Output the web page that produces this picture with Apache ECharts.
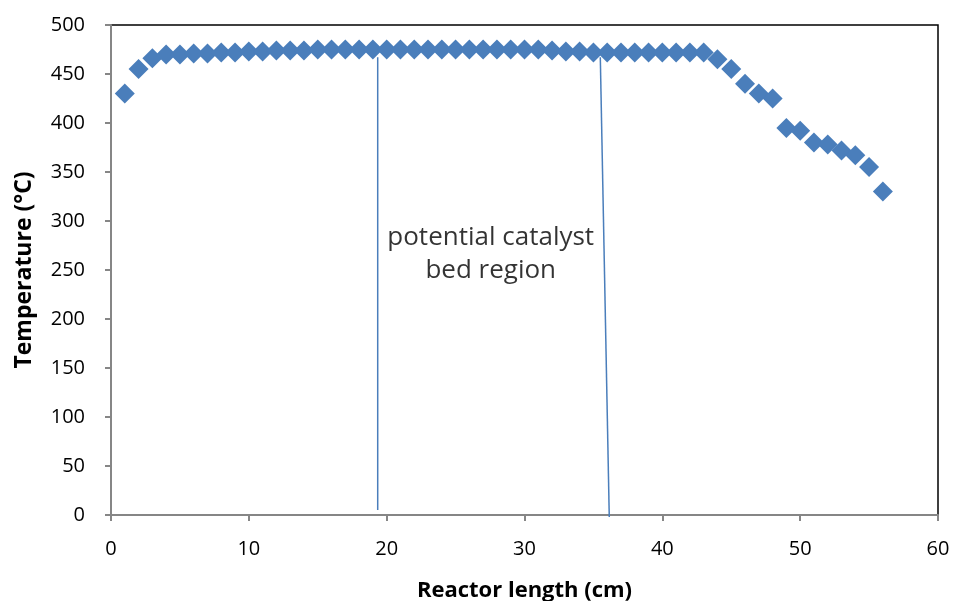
<!DOCTYPE html>
<html>
<head>
<meta charset="utf-8">
<script src="https://cdn.jsdelivr.net/npm/echarts@6/dist/echarts.min.js"></script>
<style>
  html, body { margin: 0; padding: 0; background: #fff; }
  #chart { width: 955px; height: 601px; }
</style>
</head>
<body>
<div id="chart"></div>
<script>
// Position along the reactor (cm)
const reactorLength = [
  1, 2, 3, 4, 5, 6, 7, 8, 9, 10, 11, 12, 13, 14, 15, 16, 17, 18, 19, 20,
  21, 22, 23, 24, 25, 26, 27, 28, 29, 30, 31, 32, 33, 34, 35, 36, 37, 38, 39, 40,
  41, 42, 43, 44, 45, 46, 47, 48, 49, 50, 51, 52, 53, 54, 55, 56
];
// Measured temperature at each position (°C)
const temperature = [
  430, 455, 466, 470, 470, 471, 471, 472, 472, 473, 473, 474, 474, 474, 475, 475, 475, 475, 475, 475,
  475, 475, 475, 475, 475, 475, 475, 475, 475, 475, 475, 474, 473, 473, 472, 472, 472, 472, 472, 472,
  472, 472, 472, 465, 455, 440, 430, 425, 395, 392, 380, 378, 372, 367, 355, 330
];
// Boundaries of the potential catalyst bed (x, y pairs: top then bottom)
const bedStart = [[19.35, 467], [19.35, 5]];
const bedEnd = [[35.5, 467], [36.15, -2]];
const bedLabel = 'potential catalyst\nbed region';
const bedLabelPos = [27.55, 266];

const xTicks = { min: 0, max: 60, interval: 10 };
const yTicks = { min: 0, max: 500, interval: 50 };

const FONT = '"Open Sans"';
const blue = '#4a7ebb';

const chart = echarts.init(document.getElementById('chart'));
chart.setOption({
  animation: false,
  grid: {
    left: 111, right: 17, top: 25, bottom: 86,
    outerBoundsMode: 'none',
    containLabel: false,
    show: true, borderColor: '#000', borderWidth: 1.5, backgroundColor: 'transparent'
  },
  xAxis: {
    type: 'value',
    min: xTicks.min, max: xTicks.max, interval: xTicks.interval,
    name: 'Reactor length (cm)',
    nameLocation: 'middle',
    nameGap: 65,
    nameTextStyle: { fontFamily: FONT, fontWeight: 'bold', fontSize: 22, color: '#000' },
    axisLine: { show: true, lineStyle: { color: '#868686', width: 2 } },
    axisTick: { show: true, length: 6, lineStyle: { color: '#868686', width: 2 } },
    axisLabel: { fontFamily: FONT, fontSize: 20, color: '#000', margin: 24 },
    splitLine: { show: false }
  },
  yAxis: {
    type: 'value',
    min: yTicks.min, max: yTicks.max, interval: yTicks.interval,
    name: 'Temperature (°C)',
    nameLocation: 'middle',
    nameGap: 75,
    nameTextStyle: { fontFamily: FONT, fontWeight: 'bold', fontSize: 23, color: '#000' },
    axisLine: { show: true, lineStyle: { color: '#868686', width: 2 } },
    axisTick: { show: true, length: 6, lineStyle: { color: '#868686', width: 2 } },
    axisLabel: { fontFamily: FONT, fontSize: 20, color: '#000', margin: 26 },
    splitLine: { show: false }
  },
  series: [
    {
      type: 'line',
      data: bedStart,
      symbol: 'none',
      clip: false,
      lineStyle: { color: blue, width: 1.5 },
      z: 1
    },
    {
      type: 'line',
      data: bedEnd,
      symbol: 'none',
      clip: false,
      lineStyle: { color: blue, width: 1.5 },
      z: 1
    },
    {
      type: 'scatter',
      data: reactorLength.map((x, i) => [x, temperature[i]]),
      symbol: 'diamond',
      symbolSize: 20,
      itemStyle: { color: blue, opacity: 1 },
      z: 3
    },
    {
      type: 'scatter',
      data: [bedLabelPos],
      symbolSize: 0,
      silent: true,
      label: {
        show: true,
        position: 'inside',
        formatter: bedLabel,
        fontFamily: FONT,
        fontSize: 26,
        lineHeight: 33,
        color: '#000',
        align: 'center',
        verticalAlign: 'middle'
      },
      z: 4
    }
  ]
});
</script>
</body>
</html>
